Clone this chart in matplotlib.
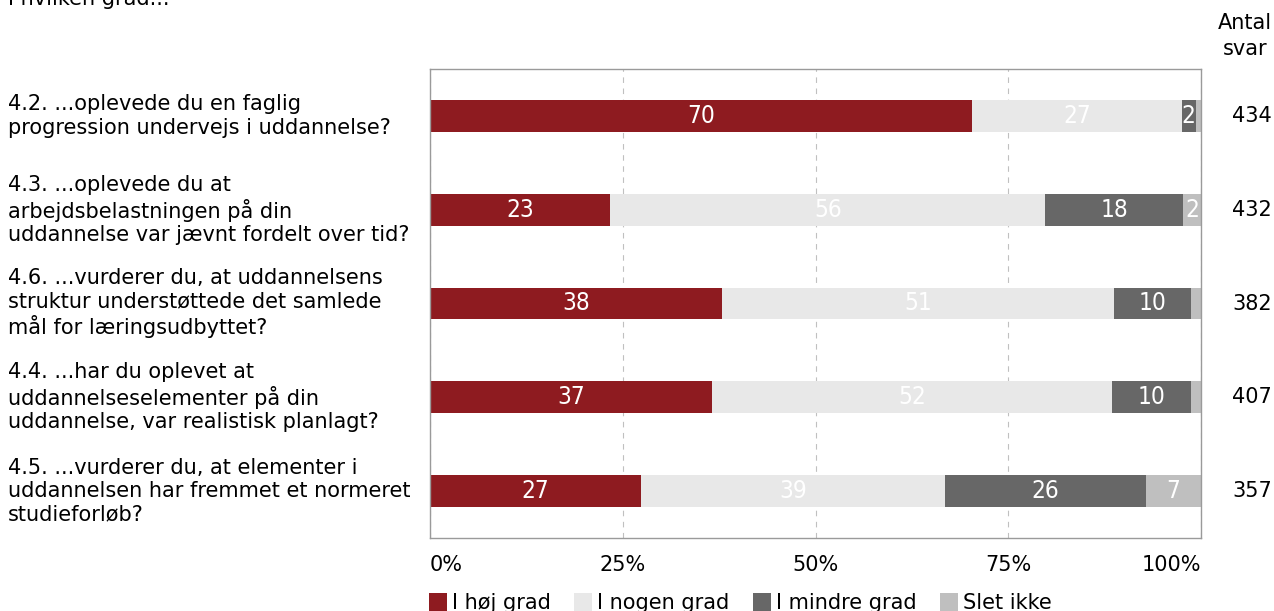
import matplotlib.pyplot as plt
from matplotlib.transforms import blended_transform_factory
from matplotlib.patches import Patch

questions = [
    "4.2. ...oplevede du en faglig\nprogression undervejs i uddannelse?",
    "4.3. ...oplevede du at\narbejdsbelastningen på din\nuddannelse var jævnt fordelt over tid?",
    "4.6. ...vurderer du, at uddannelsens\nstruktur understøttede det samlede\nmål for læringsudbyttet?",
    "4.4. ...har du oplevet at\nuddannelseselementer på din\nuddannelse, var realistisk planlagt?",
    "4.5. ...vurderer du, at elementer i\nuddannelsen har fremmet et normeret\nstudieforløb?",
]
answers = [434, 432, 382, 407, 357]

categories = ["I høj grad", "I nogen grad", "I mindre grad", "Slet ikke"]
hoej = [70.3, 23.4, 37.9, 36.6, 27.4]
nogen = [27.2, 56.4, 50.8, 51.9, 39.4]
mindre = [1.8, 17.9, 10.0, 10.2, 26.1]
slet = [0.7, 2.3, 1.3, 1.3, 7.1]

colors = ["#8e1b20", "#e8e8e8", "#676767", "#bfbfbf"]
FS = 15

fig = plt.figure(figsize=(12.74, 6.11), dpi=100)
ax = fig.add_axes([430 / 1274, 73 / 611, 771 / 1274, 469 / 611])

ypos = list(range(len(questions)))
left = [0.0] * len(questions)
for series, color in zip([hoej, nogen, mindre, slet], colors):
    ax.barh(ypos, series, left=left, height=0.34, color=color, zorder=2)
    for y, l, v in zip(ypos, left, series):
        if v >= 1.5:
            ax.text(l + v / 2, y, f"{round(v)}", ha="center", va="center",
                    color="white", fontsize=17.5, fontstretch="condensed", zorder=3)
    left = [a + b for a, b in zip(left, series)]

ax.set_xlim(0, 100)
ax.set_ylim(4.5, -0.5)
ax.set_xticks([0, 25, 50, 75, 100])
ax.set_xticklabels(["0%", "25%", "50%", "75%", "100%"], fontsize=FS)
ticklabels = ax.get_xticklabels()
ticklabels[0].set_ha("left")
ticklabels[-1].set_ha("right")
ax.set_yticks([])
ax.tick_params(axis="x", length=0, pad=12)
ax.xaxis.grid(True, linestyle=(0, (5, 5)), color="#c0c0c0", linewidth=0.8, zorder=0)
for s in ax.spines.values():
    s.set_color("#9a9a9a")
    s.set_linewidth(1)

trans = blended_transform_factory(fig.transFigure, ax.transData)
for y, q, n in zip(ypos, questions, answers):
    ax.text(8 / 1274, y, q, transform=trans, ha="left", va="center",
            fontsize=FS, linespacing=1.2)
    ax.text(1272 / 1274, y, str(n), transform=trans, ha="right", va="center",
            fontsize=FS)

fig.text(1245 / 1274, 1 - 36 / 611, "Antal\nsvar", ha="center", va="center",
         fontsize=FS, linespacing=1.35, multialignment="center")
fig.text(8 / 1274, 1 - 5 / 611, "I hvilken grad...", ha="left", va="baseline",
         fontsize=FS)

handles = [Patch(facecolor=c, edgecolor="none") for c in colors]
fig.legend(handles, categories, loc="upper left",
           bbox_to_anchor=(429 / 1274, 1 - 593 / 611), ncol=4, frameon=False,
           fontsize=FS, handlelength=0.87, handleheight=1.0, handletextpad=0.25,
           columnspacing=1.1, borderpad=0, borderaxespad=0)

fig.savefig("out.png", dpi=100)
